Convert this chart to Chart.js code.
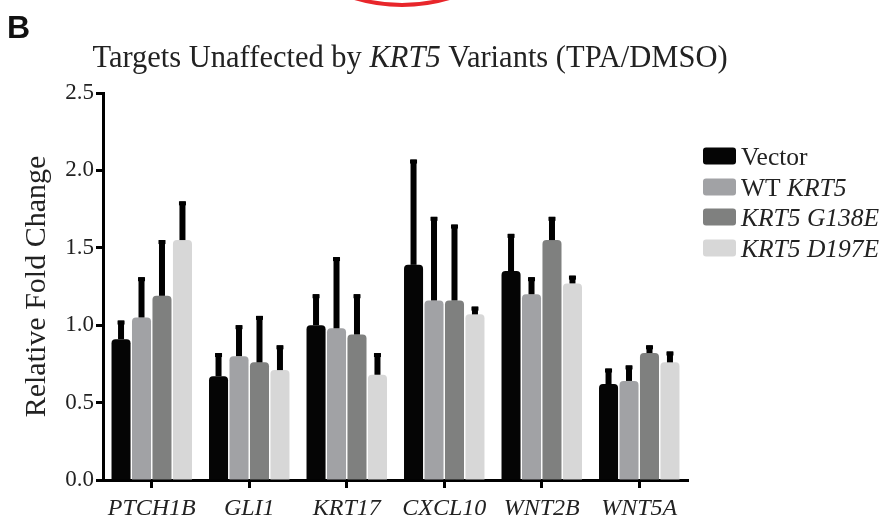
<!DOCTYPE html>
<html>
<head>
<meta charset="utf-8">
<script src="https://cdn.jsdelivr.net/npm/chart.js@4/dist/chart.umd.min.js"></script>
<style>
  html, body { margin: 0; padding: 0; background: #fff; }
  #wrap { width: 885px; height: 525px; position: relative; }
  #probe { position: absolute; left: -9999px; font-family: "Liberation Serif"; }
</style>
</head>
<body>
<div id="probe">Ag <i>Ag</i></div>
<div id="wrap"><canvas id="chart"></canvas></div>
<script>
// data
const genes = ['PTCH1B', 'GLI1', 'KRT17', 'CXCL10', 'WNT2B', 'WNT5A'];
const seriesNames = ['Vector', 'WT KRT5', 'KRT5 G138E', 'KRT5 D197E'];
const seriesColors = ['#050505', '#a1a2a5', '#7f807f', '#d7d7d7'];
const vectorVals = [0.91, 0.67, 1.00, 1.39, 1.35, 0.62];
const wtVals     = [1.05, 0.80, 0.98, 1.16, 1.20, 0.64];
const g138eVals  = [1.19, 0.76, 0.94, 1.16, 1.55, 0.82];
const d197eVals  = [1.55, 0.71, 0.68, 1.07, 1.27, 0.76];
// upper error (SD) above each bar
const vectorErr = [0.12, 0.15, 0.20, 0.68, 0.24, 0.10];
const wtErr     = [0.26, 0.20, 0.46, 0.54, 0.11, 0.10];
const g138eErr  = [0.36, 0.30, 0.26, 0.49, 0.15, 0.05];
const d197eErr  = [0.25, 0.16, 0.14, 0.05, 0.05, 0.07];
const yTicks = [0, 0.5, 1.0, 1.5, 2.0, 2.5];
const titleText = 'Targets Unaffected by KRT5 Variants (TPA/DMSO)';
const italicWords = ['KRT5', 'G138E', 'D197E'];

const serif = '"Liberation Serif", "DejaVu Serif", serif';
const allVals = [vectorVals, wtVals, g138eVals, d197eVals];
const allErr = [vectorErr, wtErr, g138eErr, d197eErr];

// draw text where some words are italic
function mixedText(ctx, text, x, y, size, align) {
  const words = text.split(' ');
  let parts = words.map((w, i) => ({ t: w + (i < words.length - 1 ? ' ' : ''), it: italicWords.includes(w) }));
  let total = 0;
  parts.forEach(p => {
    ctx.font = (p.it ? 'italic ' : '') + size + 'px ' + serif;
    p.w = ctx.measureText(p.t).width;
    total += p.w;
  });
  let cx = align === 'center' ? x - total / 2 : x;
  ctx.textAlign = 'left';
  ctx.textBaseline = 'alphabetic';
  parts.forEach(p => {
    ctx.font = (p.it ? 'italic ' : '') + size + 'px ' + serif;
    ctx.fillText(p.t, cx, y);
    cx += p.w;
  });
}

const errorBars = {
  id: 'errorBars',
  afterDatasetsDraw(chart) {
    const ctx = chart.ctx;
    const yScale = chart.scales.y;
    ctx.save();
    ctx.fillStyle = '#000';
    chart.data.datasets.forEach((ds, di) => {
      const meta = chart.getDatasetMeta(di);
      meta.data.forEach((bar, i) => {
        const top = yScale.getPixelForValue(ds.data[i] + allErr[di][i]);
        ctx.fillRect(bar.x - 3, top, 6, bar.y - top);
        ctx.fillRect(bar.x - 3.5, top, 7, 4);
      });
    });
    ctx.restore();
  }
};

const decorations = {
  id: 'decorations',
  afterDraw(chart) {
    const ctx = chart.ctx;
    ctx.save();
    // red circle cut at the top edge
    ctx.strokeStyle = '#e8262b';
    ctx.lineWidth = 4;
    ctx.beginPath();
    ctx.arc(402, -159, 164, 0, Math.PI);
    ctx.stroke();
    // panel letter
    ctx.fillStyle = '#111';
    ctx.font = 'bold 32px "Liberation Sans", Arial, sans-serif';
    ctx.textBaseline = 'alphabetic';
    ctx.fillText('B', 7, 38);
    // title
    ctx.fillStyle = '#222';
    mixedText(ctx, titleText, 410, 67, 30.5, 'center');
    // legend
    const rows = [156, 187, 217, 248];
    chart.data.datasets.forEach((ds, i) => {
      ctx.fillStyle = ds.backgroundColor;
      ctx.beginPath();
      ctx.roundRect(703, rows[i] - 8.5, 33, 17, 3);
      ctx.fill();
      ctx.fillStyle = '#222';
      mixedText(ctx, ds.label, 741, rows[i] + 9, 25.5, 'left');
    });
    ctx.restore();
  }
};

function draw() {
  new Chart(document.getElementById('chart'), {
    type: 'bar',
    data: {
      labels: genes,
      datasets: seriesNames.map((name, i) => ({
        label: name,
        data: allVals[i],
        backgroundColor: seriesColors[i],
        borderRadius: { topLeft: 4, topRight: 4 },
        borderSkipped: 'start',
        barPercentage: 0.93,
        categoryPercentage: 0.84
      }))
    },
    options: {
      responsive: true,
      maintainAspectRatio: false,
      animation: false,
      layout: { padding: { top: 93, right: 197, left: 0, bottom: 0 } },
      plugins: {
        legend: { display: false },
        tooltip: { enabled: false }
      },
      scales: {
        x: {
          afterFit: s => { s.height = 45; },
          border: { display: true, width: 3, color: '#000' },
          grid: { display: true, drawOnChartArea: false, offset: false, tickLength: 8, tickWidth: 3, tickColor: '#000' },
          ticks: { color: '#222', padding: 6, font: { family: serif, size: 24, style: 'italic' } }
        },
        y: {
          min: 0,
          max: 2.5,
          afterFit: s => { s.width = 103; },
          afterBuildTicks: s => { s.ticks = yTicks.map(v => ({ value: v })); },
          border: { display: true, width: 3, color: '#000' },
          grid: { display: true, drawOnChartArea: false, tickLength: 7, tickWidth: 3, tickColor: '#000' },
          ticks: { color: '#222', padding: 2, font: { family: serif, size: 23 }, callback: v => v.toFixed(1) },
          title: { display: true, text: 'Relative Fold Change', color: '#222', font: { family: serif, size: 30 }, padding: { top: 19, bottom: 0 } }
        }
      }
    },
    plugins: [errorBars, decorations]
  });
}

Promise.all([
  document.fonts.load('24px "Liberation Serif"'),
  document.fonts.load('italic 24px "Liberation Serif"'),
  document.fonts.load('bold 32px "Liberation Sans"')
]).then(draw, draw);
</script>
</body>
</html>
